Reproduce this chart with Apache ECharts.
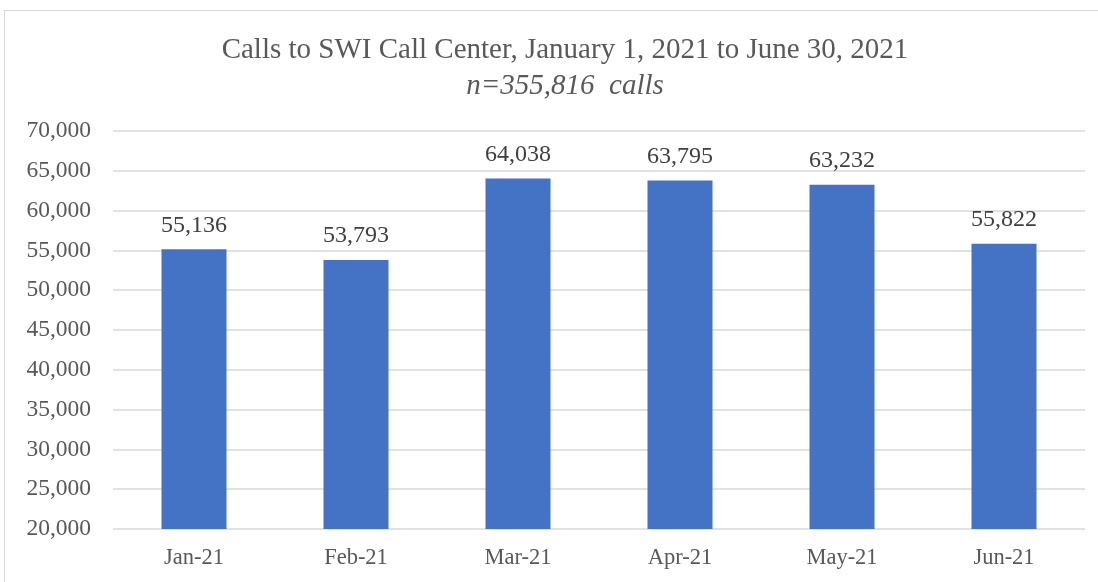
<!DOCTYPE html>
<html>
<head>
<meta charset="utf-8">
<script src="https://cdn.jsdelivr.net/npm/echarts@6/dist/echarts.min.js"></script>
<style>
  html, body { margin: 0; padding: 0; background: #fff; }
  #frame { position: absolute; left: 4px; top: 10px; width: 1110px; height: 600px; border: 1px solid #d9d9d9; box-sizing: border-box; }
  #main { width: 1098px; height: 582px; position: absolute; left: 0; top: 0; }
</style>
</head>
<body>
<div id="frame"></div>
<div id="main"></div>
<script>
// months and call counts
var months = ['Jan-21', 'Feb-21', 'Mar-21', 'Apr-21', 'May-21', 'Jun-21'];
var calls = [55136, 53793, 64038, 63795, 63232, 55822];

var chart = echarts.init(document.getElementById('main'));
var serif = '"Liberation Serif", "Times New Roman", serif';

chart.setOption({
    animation: false,
    title: {
        text: 'Calls to SWI Call Center, January 1, 2021 to June 30, 2021',
        subtext: 'n=355,816  calls',
        left: 560,
        textAlign: 'center',
        top: 31,
        itemGap: 7,
        textStyle: { fontFamily: serif, fontSize: 29, fontWeight: 'normal', color: '#595959' },
        subtextStyle: { fontFamily: serif, fontSize: 29, fontStyle: 'italic', color: '#595959' }
    },
    grid: { left: 113, right: 13, top: 131, bottom: 53 },
    xAxis: {
        type: 'category',
        data: months,
        axisLine: { show: false },
        axisTick: { show: false },
        axisLabel: { fontFamily: serif, fontSize: 22.5, color: '#595959', margin: 18 }
    },
    yAxis: {
        type: 'value',
        min: 20000,
        max: 70000,
        interval: 5000,
        axisLine: { show: false },
        axisTick: { show: false },
        axisLabel: {
            fontFamily: serif, fontSize: 23.5, color: '#595959', margin: 22,
            formatter: function (v) { return v.toLocaleString('en-US'); }
        },
        splitLine: { lineStyle: { color: '#d9d9d9', width: 1.5 } }
    },
    series: [{
        type: 'bar',
        data: calls,
        barWidth: 65,
        itemStyle: { color: '#4472C4' },
        label: {
            show: true,
            position: 'top',
            distance: 12,
            fontFamily: serif,
            fontSize: 24,
            color: '#404040',
            formatter: function (p) { return p.value.toLocaleString('en-US'); }
        }
    }]
});
</script>
</body>
</html>
